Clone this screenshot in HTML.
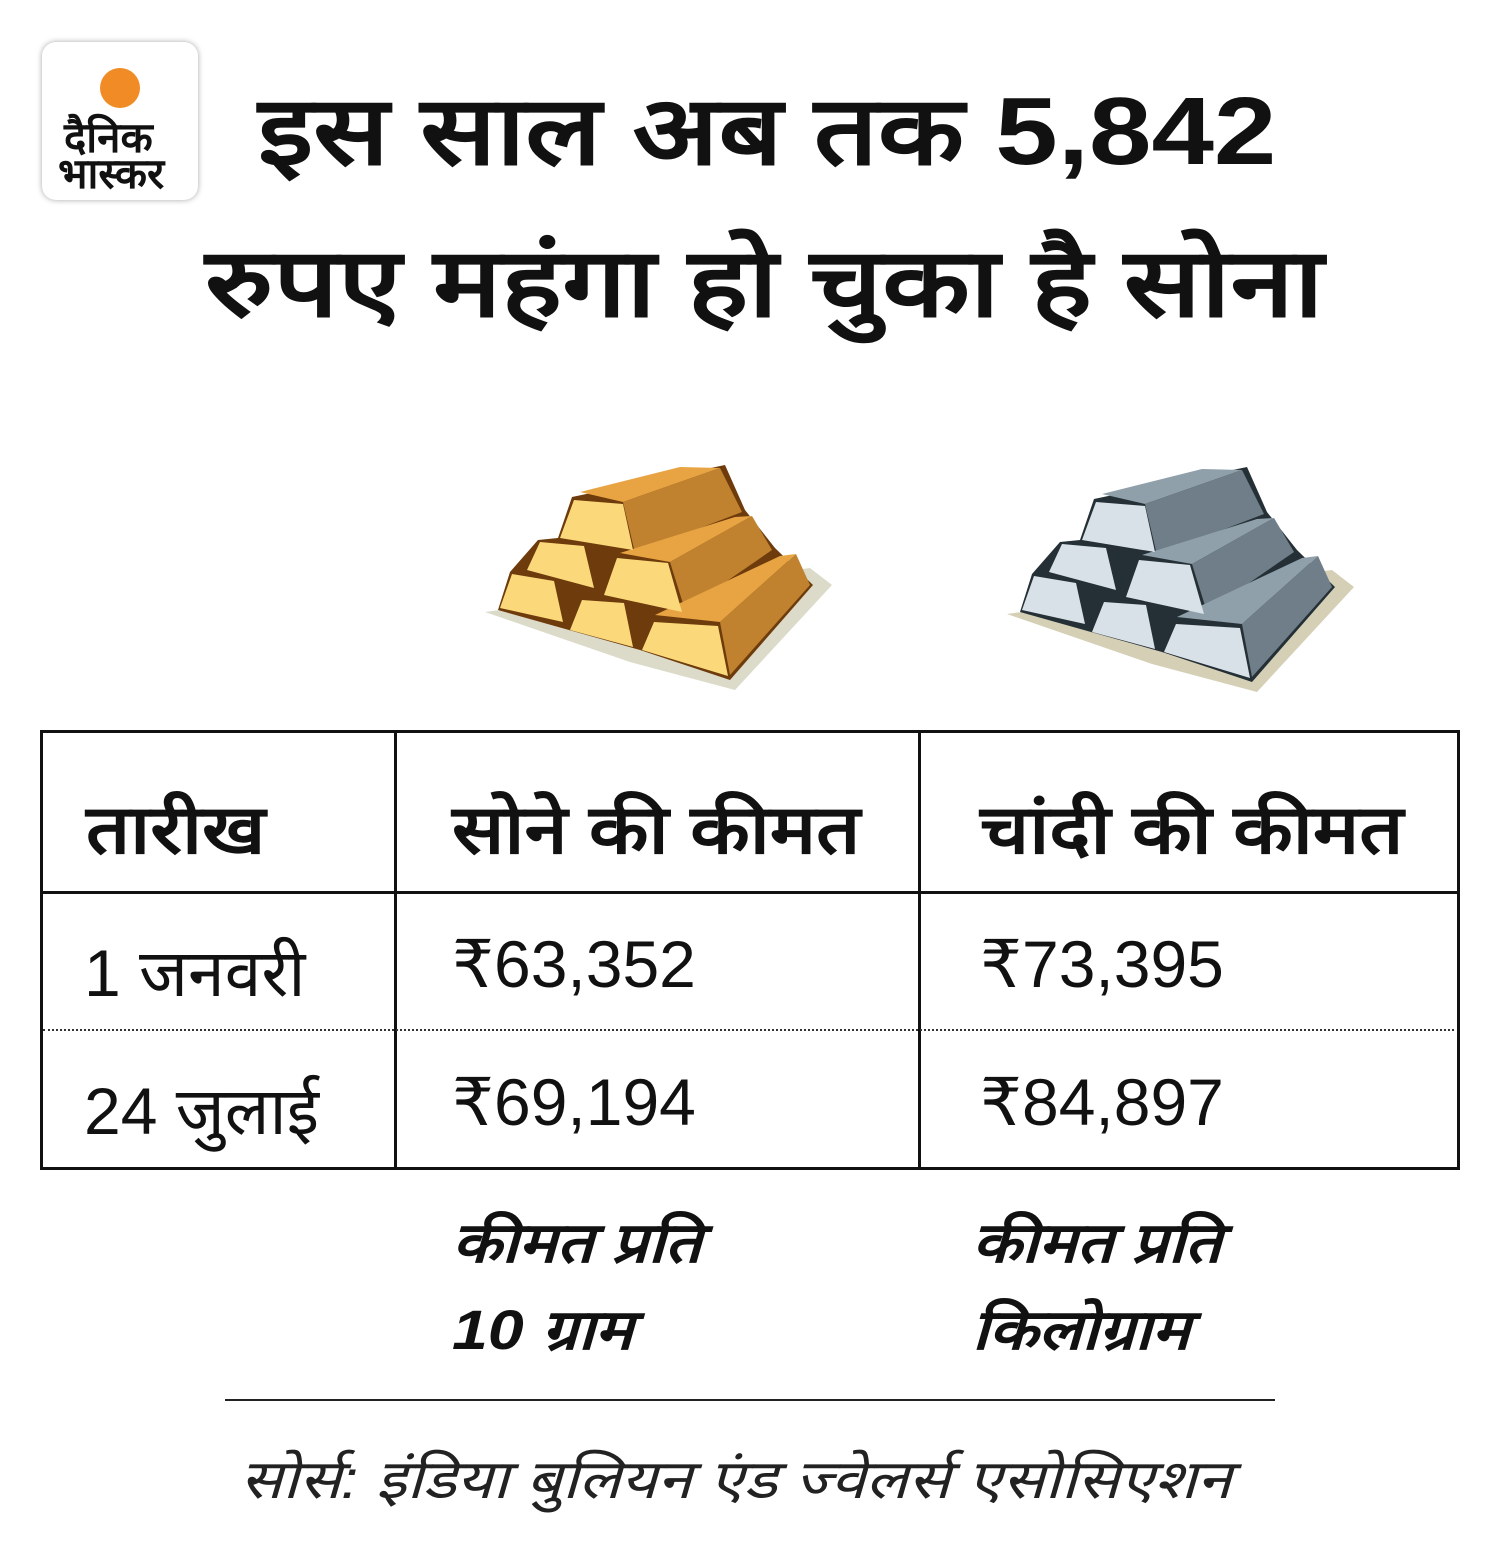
<!DOCTYPE html>
<html><head><meta charset="utf-8"><style>
html,body{margin:0;padding:0;background:#fff;}
body{width:1500px;height:1563px;position:relative;overflow:hidden;font-family:"Liberation Sans","Noto Sans CJK SC",sans-serif;color:#111;}
.t{position:absolute;white-space:nowrap;transform-origin:0 0;}
.logo{position:absolute;left:42px;top:42px;width:156px;height:158px;border-radius:14px;background:#fff;box-shadow:0 0 6px rgba(0,0,0,.35);}
.sun{position:absolute;left:58px;top:26px;width:40px;height:40px;border-radius:50%;background:#f18b25;}
.h{font-weight:bold;font-size:96px;}
.th{font-weight:bold;font-size:68px;transform:scaleX(1.14);}
.td{font-size:66px;}
.it{font-style:italic;font-weight:bold;font-size:56px;transform:scaleX(1.15);}
</style></head><body>
<div class="logo"><div class="sun"></div>
<div class="t" style="left:22px;top:66px;font-weight:bold;font-size:42px;">दैनिक</div>
<div class="t" style="left:16px;top:102px;font-weight:bold;font-size:42px;">भास्कर</div></div>
<div class="t h" style="left:258px;top:62px;transform:scaleX(1.17);">इस साल अब तक 5,842</div>
<div class="t h" style="left:205px;top:214px;transform:scaleX(1.19);">रुपए महंगा हो चुका है सोना</div>

<svg width="1500" height="760" style="position:absolute;left:0;top:0" >
<defs>
<g id="bars">
<polygon points="5,162 330,118 352,135 255,240 150,212" fill="var(--sh)"/>
<polygon points="18,160 30,122 58,90 78,88 92,47 245,15 265,60 295,98 333,135 250,230 160,200" fill="var(--ol)"/>
<polygon points="100,42 200,17 240,18 143,52" fill="var(--tp)"/>
<polygon points="143,52 240,18 262,62 155,103" fill="var(--sd)"/>
<polygon points="140,103 255,67 272,66 190,112" fill="var(--tp)"/>
<polygon points="190,112 272,66 292,100 205,160" fill="var(--sd)"/>
<polygon points="175,165 300,106 316,104 240,172" fill="var(--tp)"/>
<polygon points="240,172 316,104 330,135 250,225" fill="var(--sd)"/>
<polygon points="94,50 143,54 153,100 80,88" fill="var(--fr)"/>
<polygon points="60,92 104,96 114,138 47,120" fill="var(--fr)"/>
<polygon points="137,108 188,113 202,162 124,145" fill="var(--fr)"/>
<polygon points="32,124 74,131 83,172 20,158" fill="var(--fr)"/>
<polygon points="102,150 144,153 153,197 90,180" fill="var(--fr)"/>
<polygon points="174,172 238,176 248,226 162,200" fill="var(--fr)"/>
</g></defs>
<use href="#bars" x="480" y="450" style="--sh:#dcdac8;--ol:#6e3b0c;--tp:#e8a443;--sd:#c0822e;--fr:#fbd97a"/>
<use href="#bars" x="1002" y="452" style="--sh:#d4cfb5;--ol:#253036;--tp:#8fa0aa;--sd:#6f7e88;--fr:#d8e1e7"/>
</svg>

<div style="position:absolute;left:40px;top:730px;width:1414px;height:434px;border:3px solid #111;"></div>
<div style="position:absolute;left:394px;top:730px;width:3px;height:437px;background:#111"></div>
<div style="position:absolute;left:918px;top:730px;width:3px;height:437px;background:#111"></div>
<div style="position:absolute;left:40px;top:891px;width:1417px;height:3px;background:#111"></div>
<div style="position:absolute;left:43px;top:1029px;width:1411px;border-top:2px dotted #333"></div>
<div class="t th" style="left:86px;top:780px;">तारीख</div>
<div class="t th" style="left:452px;top:780px;">सोने की कीमत</div>
<div class="t th" style="left:980px;top:780px;">चांदी की कीमत</div>
<div class="t td" style="left:84px;top:926px;">1 जनवरी</div>
<div class="t td" style="left:452px;top:926px;">₹63,352</div>
<div class="t td" style="left:980px;top:926px;">₹73,395</div>
<div class="t td" style="left:84px;top:1064px;">24 जुलाई</div>
<div class="t td" style="left:452px;top:1064px;">₹69,194</div>
<div class="t td" style="left:980px;top:1064px;">₹84,897</div>
<div class="t it" style="left:452px;top:1203px;">कीमत प्रति</div>
<div class="t it" style="left:452px;top:1290px;">10 ग्राम</div>
<div class="t it" style="left:972px;top:1203px;">कीमत प्रति</div>
<div class="t it" style="left:972px;top:1290px;">किलोग्राम</div>
<div style="position:absolute;left:225px;top:1399px;width:1050px;height:2px;background:#222"></div>
<div class="t" style="left:240px;top:1440px;font-style:italic;font-size:54px;color:#222;transform:scaleX(1.16);">सोर्स: इंडिया बुलियन एंड ज्वेलर्स एसोसिएशन</div>
</body></html>
